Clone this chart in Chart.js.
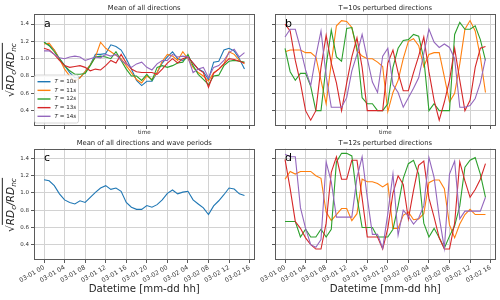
<!DOCTYPE html>
<html><head><meta charset="utf-8">
<script src="https://cdn.jsdelivr.net/npm/chart.js@4"></script>
<style>
html,body{margin:0;padding:0;background:#fff;}
#wrap{position:relative;width:500px;height:300px;overflow:hidden;background:#fff;}
canvas{position:absolute;left:0;top:0;}
.ylab{position:absolute;transform:translate(-50%,-50%) rotate(-90deg);white-space:nowrap;font-family:"DejaVu Sans",sans-serif;font-size:10.5px;color:#262626;line-height:1;}
.ylab .ol{border-top:1px solid #262626;padding-top:1px;font-style:italic;}
.ylab sub{font-size:70%;vertical-align:-2px;}
</style></head><body>
<div id="wrap">
<canvas id="ca" width="500" height="300"></canvas>
<canvas id="cb" width="500" height="300"></canvas>
<canvas id="cc" width="500" height="300"></canvas>
<canvas id="cd" width="500" height="300"></canvas>
<div class="ylab" style="left:10.5px;top:70px"><span>√</span><span class="ol">RD<sub>c</sub>/RD<sub>nc</sub></span></div>
<div class="ylab" style="left:10.5px;top:205px"><span>√</span><span class="ol">RD<sub>c</sub>/RD<sub>nc</sub></span></div>
</div>
<script>
// ---------- data ----------
const hours = [0,1,2,3,4,5,6,7,8,9,10,11,12,13,14,15,16,17,18,19,20,21,22,23,24,25,26,27,28,29,30,31,32,33,34,35,36,37,38,39];
const tickHours = [0,4,8,12,16,20,24,28,32,36,40];
const tickLabels = ['03-01 00','03-01 04','03-01 08','03-01 12','03-01 16','03-01 20','03-02 00','03-02 04','03-02 08','03-02 12','03-02 16'];
const yTicks = [0.4,0.6,0.8,1.0,1.2,1.4];
const yTickLabels = ['0.4','0.6','0.8','1.0','1.2','1.4'];
const periodLabels = ['10s','11s','12s','13s','14s'];

// panel a: mean of all directions, per wave period
const meanT10 = [1.19,1.16,1.10,1.00,0.92,0.84,0.78,0.78,0.85,0.93,1.05,1.05,1.06,1.16,1.14,1.10,1.00,0.88,0.75,0.69,0.74,0.74,0.84,0.95,1.02,1.08,1.00,0.98,1.02,0.95,0.88,0.85,0.76,0.96,0.97,1.10,1.12,1.09,1.00,0.88];
const meanT11 = [1.17,1.18,1.10,1.00,0.88,0.80,0.74,0.78,0.85,0.93,1.02,1.19,1.12,1.08,1.04,1.00,0.92,0.84,0.76,0.72,0.80,0.76,0.84,0.97,1.05,1.03,0.98,1.08,1.00,0.90,0.84,0.80,0.74,0.84,0.88,0.94,1.08,1.05,0.98,0.94];
const meanT12 = [1.19,1.15,1.08,1.00,0.92,0.86,0.82,0.82,0.83,0.92,1.02,1.03,1.02,1.00,1.08,0.98,0.88,0.80,0.80,0.75,0.82,0.75,0.90,0.92,0.90,0.92,0.95,0.96,1.05,0.92,0.82,0.76,0.70,0.80,0.81,0.92,0.97,0.98,0.97,0.96];
const meanT13 = [1.12,1.10,1.05,0.98,0.92,0.90,0.91,0.92,0.90,0.86,0.88,0.87,0.92,0.98,0.95,1.05,0.95,0.88,0.85,0.84,0.84,0.84,0.82,0.88,0.95,1.00,0.95,1.00,1.02,0.95,0.88,0.84,0.67,0.83,0.88,0.94,1.00,0.99,0.97,0.95];
const meanT14 = [1.09,1.09,1.05,1.01,1.00,1.02,1.03,1.02,0.98,1.00,1.02,1.01,1.05,1.03,1.05,0.98,0.94,0.90,0.94,0.96,0.90,0.87,0.94,0.98,0.98,1.05,1.02,1.03,1.02,0.84,0.88,0.90,0.78,0.90,0.92,0.98,1.07,1.11,1.02,1.07];

// panel b: T=10s perturbed directions
const b1 = [1.08,1.10,1.10,1.10,1.07,1.07,1.02,0.75,0.48,0.95,1.38,1.44,1.43,1.36,1.09,1.03,1.00,1.00,0.96,0.91,0.39,0.61,0.75,1.00,1.20,1.23,1.15,0.91,1.05,1.07,1.07,0.79,0.50,0.60,0.94,1.34,1.44,1.32,1.02,0.61];
const b2 = [1.12,0.85,0.75,0.83,0.83,0.68,0.40,0.40,0.92,1.33,1.02,0.97,1.35,1.36,1.12,0.55,0.48,0.48,0.40,0.40,0.48,0.90,1.12,1.21,1.22,1.28,1.26,1.00,0.40,0.48,0.40,0.40,0.40,1.28,1.42,1.34,1.34,1.38,1.22,0.98];
const b3 = [1.40,1.32,0.98,0.72,0.40,0.29,0.40,0.90,1.27,0.95,0.72,0.40,0.72,1.02,1.24,0.90,0.40,0.40,0.40,0.40,0.95,1.10,0.84,0.63,0.63,0.84,1.03,1.25,0.85,0.52,0.29,0.50,0.75,1.12,0.75,0.40,0.52,0.90,1.12,1.14];
const b4 = [1.25,1.34,1.34,1.12,0.87,0.69,1.03,1.32,0.80,0.44,0.44,0.44,0.55,0.86,1.05,1.28,1.00,0.73,0.61,1.03,1.12,0.70,0.61,0.44,0.55,0.66,0.78,1.06,1.34,1.19,1.13,1.17,1.13,1.00,0.44,0.44,0.46,0.54,0.72,1.00];

// panel c: mean of all directions and wave periods
const meanAll = [1.154,1.142,1.085,0.990,0.920,0.890,0.873,0.910,0.890,0.950,1.008,1.058,1.085,1.042,1.058,1.020,0.890,0.835,0.810,0.810,0.854,0.835,0.865,0.920,0.996,1.035,0.990,1.010,1.020,0.920,0.873,0.827,0.750,0.850,0.910,0.980,1.058,1.046,0.990,0.970];

// panel d: T=12s perturbed directions
const d1 = [1.16,1.25,1.22,1.25,1.25,1.25,1.20,1.17,0.78,0.68,0.75,0.82,0.82,0.68,0.76,1.16,1.13,1.13,1.11,1.07,1.11,0.59,0.59,0.74,0.78,0.69,0.70,0.76,1.12,1.15,1.15,1.05,0.63,0.48,0.64,0.75,0.81,0.75,0.75,0.75];
const d2 = [0.67,0.67,0.67,0.49,0.58,0.49,0.49,0.58,0.49,0.58,1.36,1.46,1.46,1.43,0.95,0.60,0.60,0.60,0.49,0.49,0.49,0.58,0.85,1.17,1.34,1.38,1.22,0.65,0.49,0.59,0.48,0.36,0.50,0.62,0.85,1.30,1.38,1.41,1.22,0.95];
const d3 = [1.39,1.05,0.67,0.59,0.48,0.40,0.35,0.35,0.65,1.24,1.42,1.16,1.16,1.38,1.38,0.94,0.49,0.49,0.49,0.35,0.59,1.00,1.20,1.10,0.70,1.03,1.32,1.37,0.94,0.72,0.48,0.35,0.35,0.65,1.36,1.14,0.95,1.04,1.16,1.34];
const d4 = [1.45,1.42,1.42,0.83,0.59,0.40,0.37,0.46,1.36,1.13,0.72,0.72,0.72,0.72,1.18,1.42,0.95,0.52,0.52,0.36,0.76,1.22,0.51,0.80,0.73,0.64,0.71,0.85,1.41,1.18,0.72,0.36,1.22,1.37,0.70,0.79,0.79,0.79,0.79,0.95];

// ---------- styling ----------
const FONT = '"DejaVu Sans", sans-serif';
const C = {blue:'#1f77b4', orange:'#ff7f0e', green:'#2ca02c', red:'#d62728', purple:'#9467bd'};
const GRID = '#d2d2d2', SPINE = '#5a5a5a', TXT = '#262626';

function pts(vals){ return vals.map((v,i)=>({x:hours[i], y:v})); }
function ds(vals, color, label, i){
  return {label, data: pts(vals), borderColor: color, backgroundColor: color, borderWidth: 1.1,
          pointRadius: 0, tension: 0, fill: false, order: -i};
}

const decoPlugin = {
  id: 'deco',
  afterDraw(chart, args, o) {
    const ctx = chart.ctx, a = chart.chartArea;
    ctx.save();
    // frame
    ctx.strokeStyle = SPINE; ctx.lineWidth = 1;
    ctx.strokeRect(Math.round(a.left)+0.5, Math.round(a.top)+0.5, Math.round(a.right)-Math.round(a.left)-1, Math.round(a.bottom)-Math.round(a.top)-1);
    // title
    ctx.fillStyle = TXT; ctx.textAlign = 'center'; ctx.textBaseline = 'alphabetic';
    ctx.font = '6.8px ' + FONT;
    ctx.fillText(o.title, (a.left + a.right)/2, a.top - 4);
    // x label
    if (o.xlabel) {
      ctx.textBaseline = 'middle';
      ctx.font = o.xlabelSize + 'px ' + FONT;
      ctx.fillText(o.xlabel, (a.left + a.right)/2, o.xlabelY);
    }
    // panel letter
    ctx.fillStyle = '#000'; ctx.textAlign = 'left'; ctx.textBaseline = 'alphabetic';
    ctx.font = '11px ' + FONT;
    ctx.fillText(o.letter, a.left + 10, a.top + 12.7);
    // legend
    if (o.legend) {
      const x0 = a.left + 0.5, y0 = 75, w = 44, h = 48;
      ctx.fillStyle = 'rgba(255,255,255,0.85)';
      ctx.strokeStyle = '#cccccc'; ctx.lineWidth = 0.8;
      ctx.beginPath();
      if (ctx.roundRect) ctx.roundRect(x0, y0, w, h, 2); else ctx.rect(x0, y0, w, h);
      ctx.fill(); ctx.stroke();
      chart.data.datasets.forEach((d, i) => {
        const y = 81.7 + i * 8.65;
        ctx.strokeStyle = d.borderColor; ctx.lineWidth = 1.4;
        ctx.beginPath(); ctx.moveTo(x0 + 3, y); ctx.lineTo(x0 + 16, y); ctx.stroke();
        ctx.fillStyle = TXT; ctx.textBaseline = 'middle';
        let x = x0 + 20;
        ctx.font = 'italic 5.6px ' + FONT; ctx.fillText('T', x, y); x += ctx.measureText('T').width;
        const num = d.label.replace('s','');
        ctx.font = '5.6px ' + FONT; const s1 = ' = ' + num; ctx.fillText(s1, x, y); x += ctx.measureText(s1).width;
        ctx.font = 'italic 5.6px ' + FONT; ctx.fillText('s', x, y);
      });
    }
    ctx.restore();
  }
};

function panel(id, area, datasets, o) {
  const wY = o.showY ? 16 : 3.5;
  const hX = o.showX ? 26 : 3.5;
  const yFont = {family: FONT, size: 5.5};
  const xFont = {family: FONT, size: 6.2};
  return new Chart(document.getElementById(id), {
    type: 'line',
    data: {datasets},
    options: {
      responsive: false, animation: false, devicePixelRatio: 1,
      layout: {padding: {left: area.l - wY, top: area.t, right: 500 - area.r, bottom: 300 - area.b - hX}},
      plugins: {legend: {display: false}, tooltip: {enabled: false}, title: {display: false}, deco: o},
      scales: {
        x: {
          type: 'linear', min: -1.95, max: 40.95,
          afterBuildTicks: s => { s.ticks = tickHours.map(v => ({value: v})); },
          afterFit: s => { s.height = hX; },
          ticks: {display: o.showX, autoSkip: false, minRotation: 30, maxRotation: 30, font: xFont, color: '#333', padding: 1,
                  callback: v => tickLabels[tickHours.indexOf(v)]},
          grid: {color: GRID, lineWidth: 1, tickLength: 3, tickColor: SPINE, drawTicks: true},
          border: {display: false}
        },
        y: {
          type: 'linear', min: 0.223, max: 1.516,
          afterBuildTicks: s => { s.ticks = yTicks.map(v => ({value: v})); },
          afterFit: s => { s.width = wY; },
          ticks: {display: o.showY, font: yFont, color: '#333', padding: 2,
                  callback: v => yTickLabels[yTicks.indexOf(v)]},
          grid: {color: GRID, lineWidth: 1, tickLength: 3, tickColor: SPINE, drawTicks: true},
          border: {display: false}
        }
      }
    },
    plugins: [decoPlugin]
  });
}

const areaA = {l: 34, t: 14, r: 254.5, b: 126};
const areaB = {l: 275, t: 14, r: 495.5, b: 126};
const areaC = {l: 34, t: 148.5, r: 254.5, b: 260};
const areaD = {l: 275, t: 148.5, r: 495.5, b: 260};

const meanSeries = [meanT10, meanT11, meanT12, meanT13, meanT14];
const meanColors = [C.blue, C.orange, C.green, C.red, C.purple];
panel('ca', areaA, meanSeries.map((s,i)=>ds(s, meanColors[i], periodLabels[i], i)),
      {title: 'Mean of all directions', letter: 'a', xlabel: 'time', xlabelSize: 5.6, xlabelY: 132.6, showX: false, showY: true, legend: true});
panel('cb', areaB, [b1,b2,b3,b4].map((s,i)=>ds(s, [C.orange,C.green,C.red,C.purple][i], 'dir'+(i+1), i)),
      {title: 'T=10s perturbed directions', letter: 'b', xlabel: 'time', xlabelSize: 5.6, xlabelY: 132.6, showX: false, showY: false});
panel('cc', areaC, [ds(meanAll, C.blue, 'mean', 0)],
      {title: 'Mean of all directions and wave periods', letter: 'c', xlabel: 'Datetime [mm-dd hh]', xlabelSize: 10.2, xlabelY: 289, showX: true, showY: true});
panel('cd', areaD, [d1,d2,d3,d4].map((s,i)=>ds(s, [C.orange,C.green,C.red,C.purple][i], 'dir'+(i+1), i)),
      {title: 'T=12s perturbed directions', letter: 'd', xlabel: 'Datetime [mm-dd hh]', xlabelSize: 10.2, xlabelY: 289, showX: true, showY: false});
</script>
</body></html>
